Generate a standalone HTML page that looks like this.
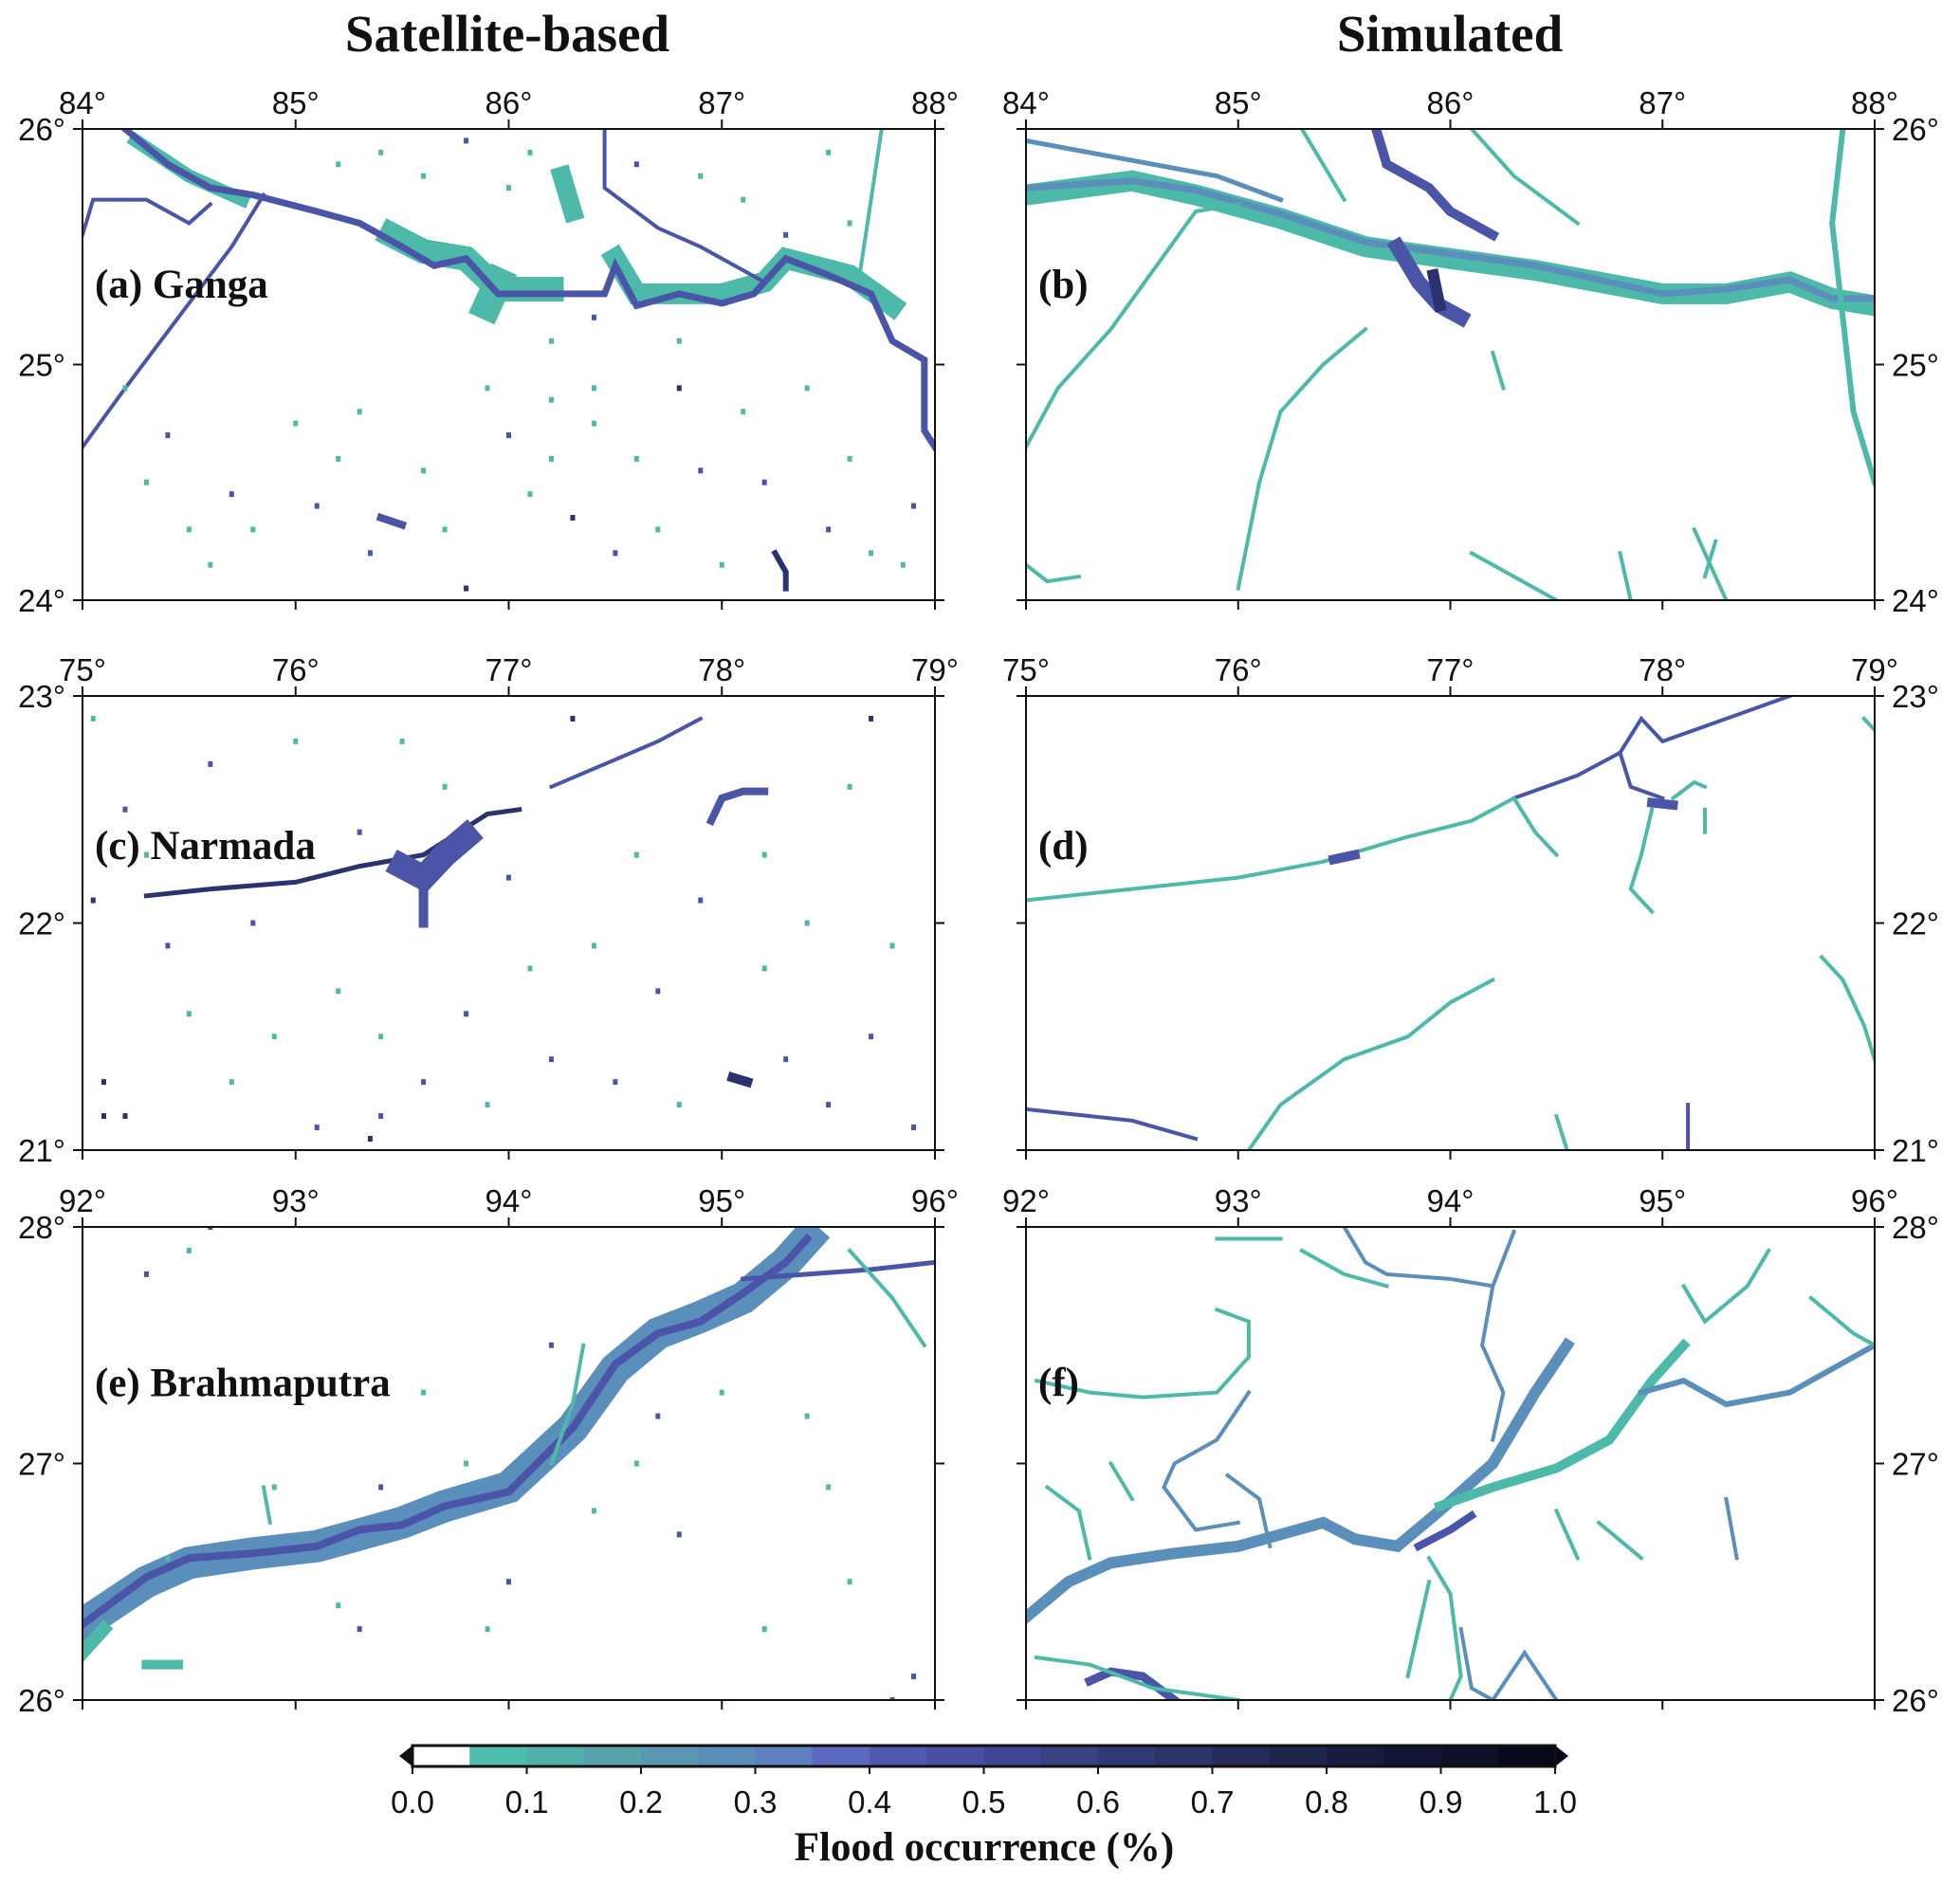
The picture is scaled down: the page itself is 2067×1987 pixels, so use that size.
<!DOCTYPE html>
<html><head><meta charset="utf-8">
<style>
html,body{margin:0;padding:0;background:#fff;}
svg{display:block;}
.ax{font-family:"Liberation Sans Narrow","Liberation Sans",sans-serif;font-size:33px;fill:#111;}
.ttl{font-family:"Liberation Serif",serif;font-weight:bold;fill:#111;}
</style></head>
<body>
<svg id="fig" width="2067" height="1987" viewBox="0 0 2067 1987" xmlns="http://www.w3.org/2000/svg">
<text class="ttl" x="535" y="54" font-size="55" text-anchor="middle">Satellite-based</text>
<text class="ttl" x="1529" y="54" font-size="55" text-anchor="middle">Simulated</text>
<g id="panels"></g>
<g id="cbar"></g>
<text class="ttl" x="1038" y="1962" font-size="43" text-anchor="middle">Flood occurrence (%)</text>
</svg>
<script>
const NS="http://www.w3.org/2000/svg";
const COL={T:"#4dbaa9",M:"#5b8fbb",B:"#4a55a8",D:"#2b3270"};
// colorbar data
const cbBounds=[0,0.05,0.1,0.15,0.2,0.25,0.3,0.35,0.4,0.45,0.5,0.55,0.6,0.65,0.7,0.75,0.8,0.85,0.9,0.95,1.0];
const cbColors=["#ffffff","#4cbcad","#52b0ab","#58a3aa","#5b97b2","#5c8cb8","#5e7fc0","#5d68c0","#5257b0","#4a4ea0","#404592","#3a4283","#333b76","#2c3468","#252c5a","#1e244c","#181d40","#121634","#0d1028","#080a1c"];
const cbTicks=["0.0","0.1","0.2","0.3","0.4","0.5","0.6","0.7","0.8","0.9","1.0"];

// panel extents
const extA=[84,88,24,26], extC=[75,79,21,23], extE=[92,96,26,28];
const lonTicksA=[84,85,86,87,88], latTicksA=[24,25,26];
const lonTicksC=[75,76,77,78,79], latTicksC=[21,22,23];
const lonTicksE=[92,93,94,95,96], latTicksE=[26,27,28];

// (a) Ganga satellite
const linesA=[
 {c:"T",w:26,p:[[85.45,25.55],[85.6,25.48],[85.8,25.45],[85.95,25.32],[86.2,25.32]]},
 {c:"T",w:22,p:[[86.5,25.45],[86.6,25.3],[87.0,25.3],[87.2,25.35],[87.3,25.45],[87.6,25.38],[87.8,25.25]]},
 {c:"T",w:30,p:[[85.9,25.25],[85.95,25.35]]},
 {c:"T",w:14,p:[[84.25,25.95],[84.5,25.8],[84.75,25.7]]},
 {c:"T",w:20,p:[[86.25,25.8],[86.3,25.65]]},
 {c:"B",w:7,p:[[84.2,26.0],[84.4,25.85],[84.6,25.75],[84.8,25.72],[85.1,25.65],[85.3,25.6],[85.5,25.5],[85.65,25.42],[85.8,25.45],[85.95,25.3],[86.2,25.3],[86.45,25.3],[86.5,25.42],[86.6,25.25],[86.8,25.3],[87.0,25.26],[87.15,25.3],[87.3,25.45],[87.5,25.38],[87.7,25.3],[87.8,25.1],[87.95,25.02],[87.95,24.72],[88.0,24.65]]},
 {c:"B",w:4,p:[[84.0,24.65],[84.2,24.9],[84.45,25.2],[84.7,25.5],[84.85,25.72]]},
 {c:"B",w:4,p:[[84.0,25.55],[84.05,25.7],[84.3,25.7],[84.5,25.6],[84.6,25.68]]},
 {c:"B",w:4,p:[[86.45,26.0],[86.45,25.75],[86.7,25.58],[86.9,25.5],[87.2,25.35]]},
 {c:"T",w:4,p:[[87.75,26.0],[87.7,25.7],[87.65,25.4]]},
 {c:"B",w:8,p:[[85.4,24.35],[85.5,24.32]]},
 {c:"D",w:6,p:[[87.25,24.2],[87.3,24.12],[87.3,24.05]]}
];
const dotsA=[[84.2,24.9],[84.3,24.5],[84.4,24.7],[84.5,24.3],[84.6,24.15],[84.7,24.45],[84.8,24.3],[85.0,24.75],[85.1,24.4],[85.2,24.6],[85.3,24.8],[85.35,24.2],[85.6,24.55],[85.7,24.3],[85.8,24.05],[85.9,24.9],[86.0,24.7],[86.1,24.45],[86.2,24.85],[86.3,24.35],[86.4,24.75],[86.5,24.2],[86.6,24.6],[86.7,24.3],[86.8,24.9],[86.9,24.55],[87.0,24.15],[87.1,24.8],[87.2,24.5],[87.4,24.9],[87.5,24.3],[87.6,24.6],[87.7,24.2],[87.85,24.15],[87.9,24.4],[85.2,25.85],[85.4,25.9],[85.6,25.8],[85.8,25.95],[86.0,25.75],[86.1,25.9],[86.6,25.85],[86.9,25.8],[87.1,25.7],[87.3,25.55],[87.5,25.9],[87.6,25.6],[86.2,25.1],[86.4,25.2],[86.8,25.1],[86.4,24.9],[86.2,24.6]];
const dotColorsA=["T","T","B","T","T","B","T","T","B","T","T","B","T","T","D","T","B","T","T","D","T","B","T","T","D","B","T","T","B","T","B","T","T","T","B","T","T","T","B","T","T","B","T","T","B","T","T","T","B","T","T","T"];

// (b) Ganga simulated
const linesB=[
 {c:"T",w:22,p:[[84.0,25.72],[84.5,25.78],[84.8,25.72],[85.2,25.62],[85.6,25.5],[86.0,25.45],[86.4,25.4],[86.7,25.35],[87.0,25.3],[87.3,25.3],[87.6,25.35],[87.8,25.28],[88.0,25.25]]},
 {c:"M",w:7,p:[[84.0,25.75],[84.5,25.78],[84.8,25.74],[85.2,25.64],[85.6,25.52],[86.0,25.47],[86.4,25.42],[86.7,25.36],[87.0,25.3],[87.3,25.32],[87.6,25.36],[87.8,25.28],[88.0,25.28]]},
 {c:"M",w:5,p:[[84.0,25.95],[84.3,25.9],[84.6,25.85],[84.9,25.8],[85.2,25.7]]},
 {c:"B",w:10,p:[[85.65,26.0],[85.7,25.85],[85.9,25.75],[86.0,25.65],[86.2,25.55]]},
 {c:"B",w:16,p:[[85.75,25.5],[85.85,25.35],[85.95,25.25],[86.05,25.2]]},
 {c:"D",w:12,p:[[85.92,25.38],[85.95,25.25]]},
 {c:"T",w:4,p:[[84.0,24.65],[84.15,24.9],[84.4,25.15],[84.6,25.4],[84.8,25.65],[85.0,25.68]]},
 {c:"T",w:4,p:[[85.0,24.05],[85.1,24.5],[85.2,24.8],[85.4,25.0],[85.6,25.15]]},
 {c:"T",w:4,p:[[86.2,25.05],[86.25,24.9]]},
 {c:"T",w:6,p:[[87.85,26.0],[87.8,25.6],[87.85,25.2],[87.9,24.8],[88.0,24.5]]},
 {c:"T",w:4,p:[[85.3,26.0],[85.4,25.85],[85.5,25.7]]},
 {c:"T",w:4,p:[[86.1,26.0],[86.3,25.8],[86.6,25.6]]},
 {c:"T",w:4,p:[[86.1,24.2],[86.3,24.1],[86.5,24.0]]},
 {c:"T",w:4,p:[[86.8,24.2],[86.85,24.0]]},
 {c:"T",w:4,p:[[87.15,24.3],[87.25,24.1],[87.3,24.0]]},
 {c:"T",w:4,p:[[84.0,24.15],[84.1,24.08],[84.25,24.1]]},
 {c:"T",w:4,p:[[87.2,24.1],[87.25,24.25]]}
];

// (c) Narmada satellite
const linesC=[
 {c:"D",w:5,p:[[75.3,22.12],[75.6,22.15],[76.0,22.18],[76.3,22.25],[76.6,22.3],[76.9,22.48],[77.05,22.5]]},
 {c:"B",w:26,p:[[76.5,22.25],[76.6,22.2],[76.7,22.3],[76.8,22.38]]},
 {c:"B",w:10,p:[[76.6,22.15],[76.6,22.0]]},
 {c:"B",w:8,p:[[77.95,22.45],[78.0,22.55],[78.1,22.58],[78.2,22.58]]},
 {c:"D",w:10,p:[[78.05,21.32],[78.12,21.3]]},
 {c:"B",w:4,p:[[77.2,22.6],[77.5,22.72],[77.7,22.8],[77.9,22.9]]}
];
const dotsC=[[75.05,22.9],[75.2,22.5],[75.3,22.3],[75.4,21.9],[75.5,21.6],[75.6,22.7],[75.7,21.3],[75.8,22.0],[75.9,21.5],[76.0,22.8],[76.1,21.1],[76.2,21.7],[76.3,22.4],[76.4,21.5],[76.5,22.8],[76.6,21.3],[76.7,22.6],[76.8,21.6],[76.9,21.2],[77.0,22.2],[77.1,21.8],[77.2,21.4],[77.3,22.9],[77.4,21.9],[77.5,21.3],[77.6,22.3],[77.7,21.7],[77.8,21.2],[77.9,22.1],[78.2,21.8],[78.3,21.4],[78.4,22.0],[78.5,21.2],[78.6,22.6],[78.7,21.5],[78.8,21.9],[78.9,21.1],[75.1,21.3],[75.1,21.15],[75.2,21.15],[76.35,21.05],[76.4,21.15],[78.7,22.9],[78.2,22.3],[75.05,22.1]];
const dotColorsC=["T","B","T","B","T","B","T","B","T","T","B","T","B","T","T","B","T","B","T","B","T","B","D","T","B","T","B","T","B","T","B","T","B","T","B","T","B","D","D","D","D","B","D","T","D"];

// (d) Narmada simulated
const linesD=[
 {c:"T",w:4,p:[[75.0,22.1],[75.5,22.15],[76.0,22.2],[76.4,22.27],[76.8,22.38],[77.1,22.45],[77.3,22.55]]},
 {c:"B",w:4,p:[[77.3,22.55],[77.6,22.65],[77.8,22.75],[77.9,22.9],[78.0,22.8],[78.3,22.9],[78.6,23.0]]},
 {c:"B",w:10,p:[[76.45,22.28],[76.55,22.3]]},
 {c:"B",w:4,p:[[77.8,22.75],[77.85,22.6],[78.0,22.55]]},
 {c:"B",w:10,p:[[77.95,22.53],[78.05,22.52]]},
 {c:"T",w:4,p:[[78.05,22.55],[78.15,22.62],[78.2,22.6]]},
 {c:"T",w:4,p:[[77.95,22.5],[77.9,22.3],[77.85,22.15],[77.95,22.05]]},
 {c:"T",w:4,p:[[77.3,22.55],[77.4,22.4],[77.5,22.3]]},
 {c:"T",w:4,p:[[78.2,22.5],[78.2,22.4]]},
 {c:"T",w:4,p:[[76.05,21.0],[76.2,21.2],[76.5,21.4],[76.8,21.5],[77.0,21.65],[77.2,21.75]]},
 {c:"B",w:4,p:[[75.0,21.18],[75.3,21.15],[75.5,21.13],[75.8,21.05]]},
 {c:"T",w:4,p:[[78.75,21.85],[78.85,21.75],[78.95,21.55],[79.0,21.4]]},
 {c:"B",w:4,p:[[78.12,21.2],[78.12,21.0]]},
 {c:"T",w:4,p:[[77.5,21.15],[77.55,21.0]]},
 {c:"T",w:4,p:[[79.0,22.85],[78.95,22.9]]}
];

// (e) Brahmaputra satellite
const linesE=[
 {c:"M",w:34,p:[[92.0,26.32],[92.3,26.5],[92.5,26.58],[92.8,26.62],[93.1,26.65],[93.3,26.7],[93.5,26.75],[93.7,26.82],[94.0,26.9],[94.3,27.15],[94.5,27.4],[94.7,27.55],[94.9,27.62],[95.1,27.7],[95.3,27.85],[95.4,27.95]]},
 {c:"B",w:8,p:[[92.0,26.32],[92.3,26.52],[92.5,26.6],[92.8,26.62],[93.1,26.65],[93.3,26.72],[93.5,26.74],[93.7,26.82],[94.0,26.88],[94.3,27.15],[94.5,27.42],[94.7,27.55],[94.9,27.6],[95.1,27.72],[95.3,27.85],[95.4,27.95]]},
 {c:"B",w:5,p:[[95.1,27.78],[95.4,27.8],[95.7,27.82],[96.0,27.85]]},
 {c:"T",w:14,p:[[92.0,26.2],[92.1,26.3]]},
 {c:"T",w:4,p:[[94.2,27.0],[94.3,27.25],[94.35,27.5]]},
 {c:"T",w:4,p:[[95.6,27.9],[95.8,27.7],[95.95,27.5]]},
 {c:"T",w:4,p:[[92.85,26.9],[92.88,26.75]]},
 {c:"T",w:10,p:[[92.3,26.15],[92.45,26.15]]}
];
const dotsE=[[92.3,27.8],[92.5,27.9],[92.6,28.0],[92.9,26.9],[93.2,26.4],[93.4,26.9],[93.6,27.3],[93.8,27.0],[94.0,26.5],[94.2,27.5],[94.4,26.8],[94.6,27.0],[94.8,26.7],[95.0,27.3],[95.2,26.3],[95.4,27.2],[95.6,26.5],[95.8,26.0],[95.9,26.1],[94.7,27.2],[93.3,26.3],[92.4,26.6],[93.9,26.3],[95.5,26.9]];
const dotColorsE=["B","T","B","T","T","B","T","T","B","B","T","T","B","T","T","T","T","B","B","B","B","T","T","T"];

// (f) Brahmaputra simulated
const linesF=[
 {c:"M",w:12,p:[[92.0,26.35],[92.2,26.5],[92.4,26.58],[92.7,26.62],[93.0,26.65],[93.2,26.7],[93.4,26.75],[93.55,26.68],[93.75,26.65],[93.95,26.8],[94.2,27.0],[94.4,27.3],[94.55,27.5]]},
 {c:"T",w:10,p:[[93.95,26.82],[94.2,26.9],[94.5,26.98],[94.75,27.1],[94.95,27.35],[95.1,27.5]]},
 {c:"B",w:9,p:[[92.3,26.08],[92.4,26.12],[92.55,26.1],[92.7,26.0]]},
 {c:"T",w:4,p:[[92.05,26.18],[92.3,26.15],[92.6,26.05],[93.0,26.0]]},
 {c:"T",w:4,p:[[92.05,27.35],[92.3,27.3],[92.55,27.28],[92.9,27.3],[93.05,27.45],[93.05,27.6],[92.9,27.65]]},
 {c:"M",w:4,p:[[93.05,27.3],[92.9,27.1],[92.7,27.0],[92.65,26.9],[92.8,26.72],[93.0,26.75]]},
 {c:"M",w:4,p:[[92.95,26.95],[93.1,26.85],[93.15,26.65]]},
 {c:"M",w:4,p:[[93.5,28.0],[93.6,27.85],[93.7,27.8],[94.0,27.78],[94.2,27.75],[94.3,27.98]]},
 {c:"M",w:4,p:[[94.2,27.75],[94.15,27.5],[94.25,27.3],[94.2,27.1]]},
 {c:"T",w:4,p:[[92.9,27.95],[93.2,27.95]]},
 {c:"T",w:4,p:[[93.3,27.9],[93.5,27.8],[93.7,27.75]]},
 {c:"T",w:4,p:[[93.9,26.6],[94.0,26.45],[94.05,26.1],[94.0,26.0]]},
 {c:"M",w:4,p:[[94.05,26.3],[94.1,26.05],[94.2,26.0],[94.35,26.2],[94.5,26.0]]},
 {c:"M",w:6,p:[[94.9,27.3],[95.1,27.35],[95.3,27.25],[95.6,27.3],[95.9,27.45],[96.0,27.5]]},
 {c:"T",w:4,p:[[95.5,27.9],[95.4,27.75],[95.2,27.6],[95.1,27.75]]},
 {c:"T",w:4,p:[[95.7,27.7],[95.9,27.55],[96.0,27.5]]},
 {c:"T",w:4,p:[[92.1,26.9],[92.25,26.8],[92.3,26.6]]},
 {c:"T",w:4,p:[[92.4,27.0],[92.5,26.85]]},
 {c:"T",w:4,p:[[94.5,26.8],[94.6,26.6]]},
 {c:"M",w:4,p:[[95.3,26.85],[95.35,26.6]]},
 {c:"T",w:4,p:[[93.8,26.1],[93.9,26.5]]},
 {c:"T",w:4,p:[[94.7,26.75],[94.9,26.6]]}
];
const lineDarkF={c:"B",w:8,p:[[93.85,26.65],[94.0,26.72],[94.1,26.78]]};
linesF.push(lineDarkF);

const panels=[
 {id:"a",label:"(a) Ganga",x0:87,x1:986,y0:136,y1:633,ext:extA,lonT:lonTicksA,latT:latTicksA,side:"left",lines:linesA,dots:dotsA,dc:dotColorsA},
 {id:"b",label:"(b)",x0:1082,x1:1977,y0:136,y1:633,ext:extA,lonT:lonTicksA,latT:latTicksA,side:"right",lines:linesB,dots:[],dc:[]},
 {id:"c",label:"(c) Narmada",x0:87,x1:986,y0:734,y1:1213,ext:extC,lonT:lonTicksC,latT:latTicksC,side:"left",lines:linesC,dots:dotsC,dc:dotColorsC},
 {id:"d",label:"(d)",x0:1082,x1:1977,y0:734,y1:1213,ext:extC,lonT:lonTicksC,latT:latTicksC,side:"right",lines:linesD,dots:[],dc:[]},
 {id:"e",label:"(e) Brahmaputra",x0:87,x1:986,y0:1294,y1:1793,ext:extE,lonT:lonTicksE,latT:latTicksE,side:"left",lines:linesE,dots:dotsE,dc:dotColorsE},
 {id:"f",label:"(f)",x0:1082,x1:1977,y0:1294,y1:1793,ext:extE,lonT:lonTicksE,latT:latTicksE,side:"right",lines:linesF,dots:[],dc:[]}
];

function mk(tag,attrs,parent){const e=document.createElementNS(NS,tag);for(const k in attrs)e.setAttribute(k,attrs[k]);parent.appendChild(e);return e;}
const root=document.getElementById("panels");
const defs=mk("defs",{},root);
panels.forEach(P=>{
 const sx=lon=>P.x0+(lon-P.ext[0])/(P.ext[1]-P.ext[0])*(P.x1-P.x0);
 const sy=lat=>P.y1-(lat-P.ext[2])/(P.ext[3]-P.ext[2])*(P.y1-P.y0);
 const cp=mk("clipPath",{id:"clip-"+P.id},defs);
 mk("rect",{x:P.x0,y:P.y0,width:P.x1-P.x0,height:P.y1-P.y0},cp);
 const g=mk("g",{},root);
 
 
 const mg=mk("g",{"clip-path":"url(#clip-"+P.id+")"},g);
 P.lines.forEach(L=>{
  const pl=mk("polyline",{points:L.p.map(q=>sx(q[0]).toFixed(1)+","+sy(q[1]).toFixed(1)).join(" "),fill:"none",stroke:COL[L.c],"stroke-width":L.w,"stroke-linejoin":"miter","stroke-linecap":"square"},mg);
  
  
 });
 P.dots.forEach((d,i)=>{
  const r=mk("rect",{x:sx(d[0])-2.5,y:sy(d[1])-3,width:5,height:6,fill:COL[P.dc[i]||"T"]},mg);
  
  
 });
 const fr=mk("rect",{x:P.x0,y:P.y0,width:P.x1-P.x0,height:P.y1-P.y0,fill:"none",stroke:"#111","stroke-width":2},g);
 
 
 P.lonT.forEach(v=>{
  const x=sx(v);
  mk("line",{x1:x,y1:P.y0,x2:x,y2:P.y0-10,stroke:"#111","stroke-width":2},g);
  mk("line",{x1:x,y1:P.y1,x2:x,y2:P.y1+10,stroke:"#111","stroke-width":2},g);
  const t=mk("text",{x:x,y:P.y0-16,"text-anchor":"middle",class:"ax"},g);
  t.textContent=v+"°";
  
  
 });
 P.latT.forEach(v=>{
  const y=sy(v);
  mk("line",{x1:P.x0,y1:y,x2:P.x0-10,y2:y,stroke:"#111","stroke-width":2},g);
  mk("line",{x1:P.x1,y1:y,x2:P.x1+10,y2:y,stroke:"#111","stroke-width":2},g);
  const t=mk("text",{x:P.side==="left"?P.x0-18:P.x1+18,y:y+12,"text-anchor":P.side==="left"?"end":"start",class:"ax"},g);
  t.textContent=v+"°";
  
  
 });
 const lb=mk("text",{x:P.x0+13,y:P.y0+(P.y1-P.y0)*0.33+14,class:"ttl","font-size":"43"},g);
 lb.textContent=P.label;
 
 
});

// colorbar
const cb=document.getElementById("cbar");
const CX0=435,CX1=1640,CY0=1841,CY1=1863;
const cx=v=>CX0+v*(CX1-CX0);
mk("polygon",{points:`${CX0},${CY0} ${CX0-14},${(CY0+CY1)/2} ${CX0},${CY1}`,fill:"#111"},cb);
mk("polygon",{points:`${CX1},${CY0} ${CX1+14},${(CY0+CY1)/2} ${CX1},${CY1}`,fill:cbColors[cbColors.length-1]},cb);
cbColors.forEach((c,i)=>{
 const r=mk("rect",{x:cx(cbBounds[i]),y:CY0,width:cx(cbBounds[i+1])-cx(cbBounds[i])+0.5,height:CY1-CY0,fill:c},cb);
 
 
});
mk("rect",{x:CX0,y:CY0,width:CX1-CX0,height:CY1-CY0,fill:"none",stroke:"#111","stroke-width":3},cb);
cbTicks.forEach(s=>{
 const x=cx(parseFloat(s));
 mk("line",{x1:x,y1:CY1,x2:x,y2:CY1+8,stroke:"#111","stroke-width":2},cb);
 const t=mk("text",{x:x,y:1912,"text-anchor":"middle",class:"ax"},cb);
 t.textContent=s;
 
 
});
</script>
</body></html>
